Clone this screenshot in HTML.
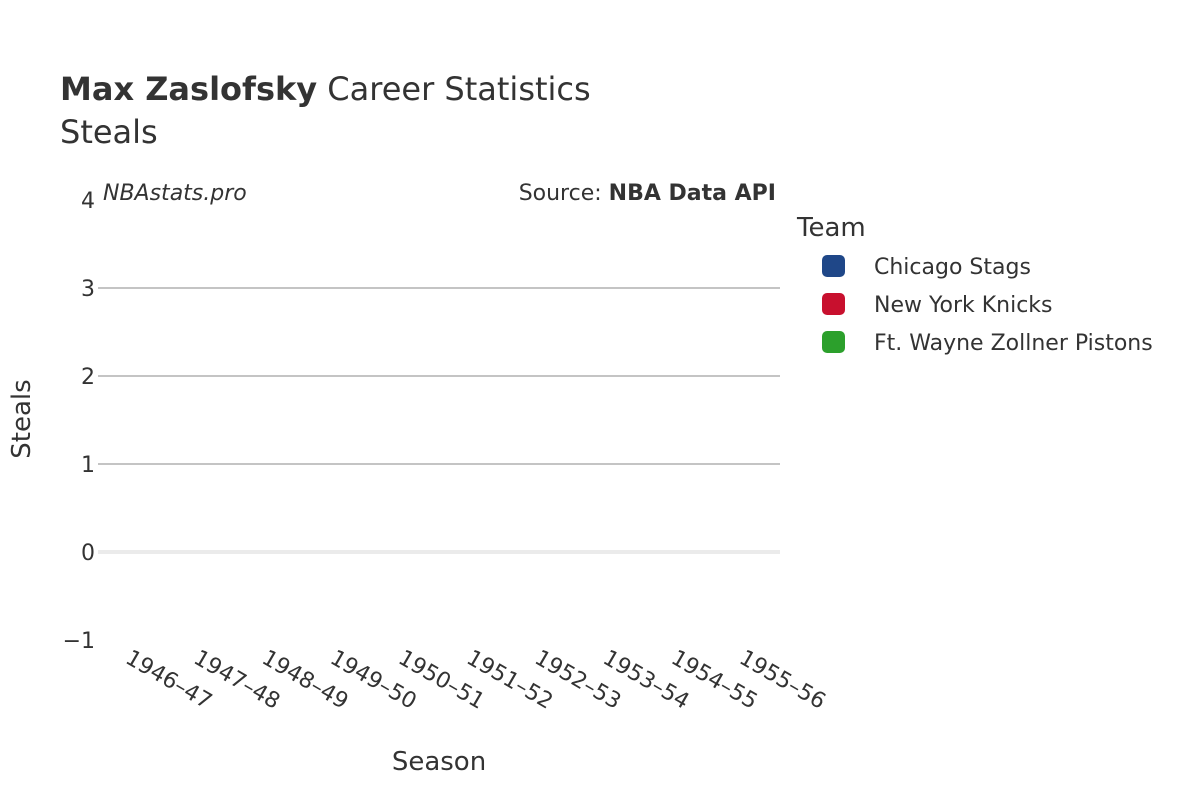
<!DOCTYPE html>
<html><head><meta charset="utf-8">
<style>
html,body{margin:0;padding:0;background:#fff;}
svg{display:block;font-family:"DejaVu Sans","Liberation Sans",sans-serif;}
</style></head>
<body>
<svg id="chart" width="1200" height="800" viewBox="0 0 1200 800">
  <text x="60" y="100" font-size="32" fill="#333"><tspan font-weight="bold">Max Zaslofsky</tspan> Career Statistics</text>
  <text x="60" y="143" font-size="32" fill="#333">Steals</text>
  <g id="grid"></g>
  <g id="yticks"></g>
  <g id="xticks"></g>
  <g id="marks"></g>
  <text x="103" y="200" font-size="22" font-style="italic" fill="#333">NBAstats.pro</text>
  <text x="776" y="200" font-size="22" fill="#333" text-anchor="end">Source: <tspan font-weight="bold">NBA Data API</tspan></text>
  <text x="30" y="419" font-size="26" fill="#333" text-anchor="middle" transform="rotate(-90 30 419)">Steals</text>
  <text x="439" y="770" font-size="26" fill="#333" text-anchor="middle">Season</text>
  <text x="797" y="236" font-size="26" fill="#333">Team</text>
  <g id="legend"></g>
</svg>
<script>
const seasons = ["1946–47","1947–48","1948–49","1949–50","1950–51","1951–52","1952–53","1953–54","1954–55","1955–56"];
const yTicks = [-1,0,1,2,3,4];
const teams = ["Chicago Stags","New York Knicks","Ft. Wayne Zollner Pistons"];
const teamColors = ["#1f4788","#c8102e","#2ca02c"];
const chicagoSteals = [null,null,null,null,null,null,null,null,null,null];
const knicksSteals = [null,null,null,null,null,null,null,null,null,null];
const pistonsSteals = [null,null,null,null,null,null,null,null,null,null];
const seriesValues = [chicagoSteals, knicksSteals, pistonsSteals];

const NS = "http://www.w3.org/2000/svg";
const X0 = 98, X1 = 780;
function yScale(v){ return 552 - v * 88; }
function xScale(i){ return X0 + (X1 - X0) / seasons.length * (i + 0.5); }
function mk(tag, attrs, parent){ const e = document.createElementNS(NS, tag); for (const k in attrs) e.setAttribute(k, attrs[k]); parent.appendChild(e); return e; }

const grid = document.getElementById('grid');
const yt = document.getElementById('yticks');
yTicks.forEach(v => {
  const y = yScale(v);
  if (v > 0 && v < 4) {
    const l = mk('line', {x1: X0, x2: X1, y1: y, y2: y, stroke: '#c4c4c4', 'stroke-width': 2}, grid);
    
    
  }
  if (v === 0) {
    const l = mk('line', {x1: X0, x2: X1, y1: y, y2: y, stroke: '#ebebeb', 'stroke-width': 4}, grid);
    
    
  }
  const t = mk('text', {x: 95, y: y + 8, 'font-size': 22, fill: '#333', 'text-anchor': 'end'}, yt);
  t.textContent = v < 0 ? '\u2212' + Math.abs(v) : String(v);
  
  
});

const xt = document.getElementById('xticks');
seasons.forEach((s, i) => {
  const x = xScale(i) - 8, y = 662;
  const t = mk('text', {x: x, y: y, 'font-size': 22, fill: '#333', transform: 'rotate(30 ' + x + ' ' + y + ')'}, xt);
  t.textContent = s;
  
  
});

const marks = document.getElementById('marks');
seriesValues.forEach((arr, si) => {
  arr.forEach((v, i) => {
    if (v === null || v === undefined) return;
    const c = mk('circle', {cx: xScale(i), cy: yScale(v), r: 6, fill: teamColors[si]}, marks);
    
    
  });
});

const lg = document.getElementById('legend');
teams.forEach((t, i) => {
  const y = 266 + i * 38;
  const g = mk('g', {}, lg);
  
  
  mk('rect', {x: 822, y: y - 11, width: 23, height: 22, rx: 5, fill: teamColors[i]}, g);
  const tx = mk('text', {x: 874, y: y + 8, 'font-size': 22, fill: '#333'}, g);
  tx.textContent = t;
});
</script>
</body></html>
